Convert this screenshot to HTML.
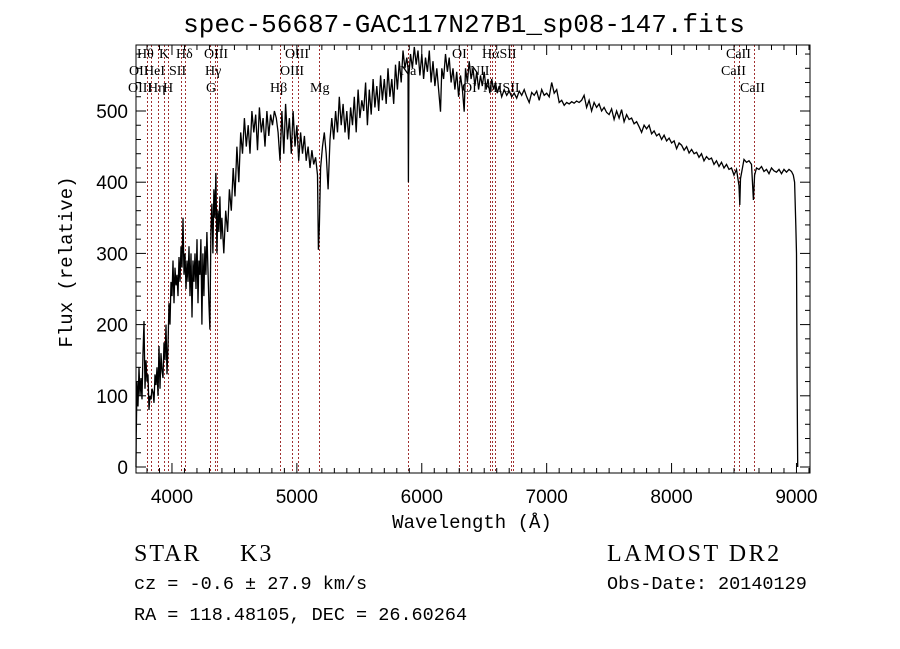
<!DOCTYPE html>
<html><head><meta charset="utf-8"><style>
html,body{margin:0;padding:0;background:#fff;}
svg{display:block;}
.t{font-family:"Liberation Mono",monospace;fill:#000;}
.s{font-family:"Liberation Sans",sans-serif;fill:#000;}
.r{font-family:"Liberation Serif",serif;fill:#000;}
</style></head><body>
<svg id="chart" width="900" height="649" viewBox="0 0 900 649">
<rect width="900" height="649" fill="#fff"/>
<text class="t" x="464" y="32" font-size="26" text-anchor="middle">spec-56687-GAC117N27B1_sp08-147.fits</text>
<g id="lines"></g>
<g id="labels"></g>
<g id="spec"></g>
<g id="axes"></g>
<text class="t" x="472" y="528" font-size="19" text-anchor="middle">Wavelength (Å)</text>
<text class="t" x="0" y="0" font-size="19" text-anchor="middle" transform="translate(72,262) rotate(-90)">Flux (relative)</text>
<text class="r" x="134" y="561" font-size="24" letter-spacing="2">STAR</text>
<text class="r" x="240" y="561" font-size="24" letter-spacing="2">K3</text>
<text class="t" x="134" y="589" font-size="18.5">cz = -0.6 ± 27.9 km/s</text>
<text class="t" x="134" y="620" font-size="18.5">RA = 118.48105, DEC =  26.60264</text>
<text class="r" x="607" y="561" font-size="24" letter-spacing="2.5">LAMOST DR2</text>
<text class="t" x="607" y="589" font-size="18.5">Obs-Date: 20140129</text>
</svg>
<script>
const wavelengths=[3712,3714,3720,3728,3736,3744,3752,3760,3768,3776,3784,3792,3800,3808,3816,3824,3832,3840,3848,3856,3864,3872,3880,3888,3896,3904,3912,3920,3928,3936,3944,3952,3960,3968,3976,3984,3992,4000,4008,4016,4024,4032,4040,4048,4056,4064,4072,4080,4088,4096,4104,4112,4120,4128,4136,4144,4152,4160,4168,4176,4184,4192,4200,4208,4216,4224,4232,4240,4248,4256,4264,4272,4280,4288,4296,4304,4312,4320,4328,4336,4344,4352,4360,4368,4376,4384,4392,4400,
4415,4430,4445,4460,4475,4490,4505,4520,4535,4550,4565,4580,4595,4610,4625,4640,4655,4670,4685,4700,4715,4730,4745,4760,4775,4790,4805,4820,4835,4850,4865,4880,4895,4910,4925,4940,4955,4970,4985,5000,5015,5030,5045,5060,5075,5090,5105,5120,5135,5150,5165,5172,5180,5190,5205,5220,5235,5250,5265,5280,5295,5310,5325,5340,5355,5370,5385,5400,5415,5430,5445,5460,5475,5490,5505,5520,5535,5550,5565,5580,5595,5610,5625,5640,5655,5670,5685,5700,5715,5730,5745,5760,5775,5790,5805,5820,5835,5850,5865,5880,5890,5893,5897,5910,5925,5940,5955,5970,5985,6000,6015,6030,6045,6060,6075,6090,6105,6120,6135,6150,6160,6175,6190,6205,6220,6235,6250,6265,6280,6295,6310,6325,6340,6350,6365,6380,6395,6410,6425,6440,6455,6470,6485,6500,6515,6530,6545,6560,6575,6590,6605,6620,6640,6660,6680,6700,6720,6740,6760,6780,6800,6820,6840,6860,6880,6900,6920,6940,6960,6980,7000,7020,7040,7060,7080,7100,7120,7140,7160,7180,7200,7220,7240,7260,7280,7300,7320,7340,7360,7380,7400,7420,7440,7460,7480,7500,7520,7540,7560,7580,7600,7620,7640,7660,7680,7700,7720,7740,7760,7780,7800,7820,7840,7860,7880,7900,7920,7940,7960,7980,8000,8020,8040,8060,8080,8100,8120,8140,8160,8180,8200,8220,8240,8260,8280,8300,8320,8340,8360,8380,8400,8420,8440,8460,8480,8500,8520,8540,8546,8552,8580,8600,8620,8640,8655,8665,8680,8700,8720,8740,8760,8780,8800,8820,8840,8860,8880,8900,8920,8940,8960,8975,8985,8995,9000,9005,9010];
const flux=[0,40,120,85,140,100,125,95,160,205,110,150,120,130,80,100,95,110,105,90,130,115,140,100,170,110,160,135,125,175,150,200,130,170,230,200,260,240,290,230,280,255,270,240,295,260,310,280,350,270,300,250,290,260,310,240,300,210,290,260,300,250,320,230,290,270,320,200,300,240,310,270,330,280,230,193,330,370,300,390,350,413,300,360,330,380,320,350,
300,360,330,390,360,420,380,450,400,470,440,490,450,480,440,500,470,495,445,505,470,490,450,500,465,495,480,500,490,470,430,500,440,510,460,490,440,500,450,480,430,470,440,465,430,450,420,445,425,435,410,305,340,420,450,470,440,390,460,490,460,500,470,520,480,510,470,500,460,505,480,520,470,530,490,515,500,540,480,530,495,545,505,535,500,550,515,545,510,560,520,545,510,565,530,570,540,585,560,575,560,400,550,580,560,590,565,585,550,580,545,575,555,585,540,570,535,560,530,499,560,545,580,555,575,540,560,530,555,520,550,530,499,560,540,570,545,560,535,555,530,550,535,555,530,545,525,545,530,540,525,535,520,530,522,528,520,525,518,528,522,530,520,512,526,522,528,515,530,522,525,520,540,525,530,512,515,508,512,510,513,511,514,512,515,522,505,515,500,512,505,510,500,505,498,495,503,488,500,490,502,485,495,488,490,482,485,478,470,480,475,480,468,472,465,468,460,466,458,462,455,458,447,455,452,445,450,441,446,440,442,435,440,430,436,432,434,425,430,422,428,420,425,418,420,410,418,395,368,405,432,428,430,425,375,410,420,418,422,415,418,412,420,416,414,418,412,418,414,418,415,410,400,340,300,120,0];
const markerLines=[3798,3835,3889,3934,3968,4072,4102,4304,4341,4363,4861,4959,5007,5175,5893,6300,6364,6548,6563,6583,6716,6731,8498,8542,8662];
const xTicks=[4000,5000,6000,7000,8000,9000];
const yTicks=[0,100,200,300,400,500];
const X0=136,X1=810,Y0=45,Y1=473;
const xScale=w=>136+(w-3712)*0.1249;
const yScale=f=>467-f*0.712;
const NS='http://www.w3.org/2000/svg';
function mk(tag,attrs,parent){const e=document.createElementNS(NS,tag);for(const k in attrs)e.setAttribute(k,attrs[k]);parent.appendChild(e);return e;}
const gL=document.getElementById('lines');
markerLines.forEach(w=>{const x=Math.round(xScale(w))+0.5;const l=mk('line',{x1:x,x2:x,y1:Y0,y2:Y1,stroke:'#a03030','stroke-width':1,'stroke-dasharray':'2,2'},gL);

});
const labs=[["Hθ",137,58],["K",159,58],["Hδ",176,58],["OIII",204,58],["OIII",285,58],["OI",452,58],["HαSII",482,58],["CaII",726,58],
["OII",129,75],["HeI",144,75],["SII",169,75],["Hγ",205,75],["OIII",280,75],["Na",400,75],["NII",470,75],["CaII",721,75],
["OIII",128,92],["Hη",148,92],["H",163,92],["G",206,92],["Hβ",270,92],["Mg",310,92],["OI",462,92],["NIISII",483,92],["CaII",740,92]];
const gT=document.getElementById('labels');
labs.forEach(a=>{const t=mk('text',{x:a[1],y:a[2],'font-size':14,class:'r'},gT);t.textContent=a[0];

});
const gS=document.getElementById('spec');
let d='';wavelengths.forEach((w,i)=>{d+=(i?'L':'M')+xScale(w).toFixed(1)+','+Math.min(Y1,yScale(flux[i])).toFixed(1);});
const p=mk('path',{d:d,fill:'none',stroke:'#000','stroke-width':1.3},gS);


const gA=document.getElementById('axes');
const fr=mk('rect',{x:X0,y:Y0,width:X1-X0,height:Y1-Y0,fill:'none',stroke:'#000','stroke-width':1},gA);


for(let w=3800;w<=9100;w+=100){const x=xScale(w);const len=(w%1000===0)?10:5;
mk('line',{x1:x,x2:x,y1:Y1,y2:Y1-len,stroke:'#000'},gA);mk('line',{x1:x,x2:x,y1:Y0,y2:Y0+len,stroke:'#000'},gA);}
for(let f=0;f<=580;f+=20){const y=yScale(f);const len=(f%100===0)?10:5;
mk('line',{x1:X0,x2:X0+len,y1:y,y2:y,stroke:'#000'},gA);mk('line',{x1:X1,x2:X1-len,y1:y,y2:y,stroke:'#000'},gA);}
xTicks.forEach(w=>{const t=mk('text',{x:xScale(w),y:503,'font-size':19,'text-anchor':'middle',class:'s'},gA);t.textContent=w;

});
yTicks.forEach(f=>{const t=mk('text',{x:128,y:yScale(f)+7,'font-size':19,'text-anchor':'end',class:'s'},gA);t.textContent=f;

});
</script>
</body></html>
